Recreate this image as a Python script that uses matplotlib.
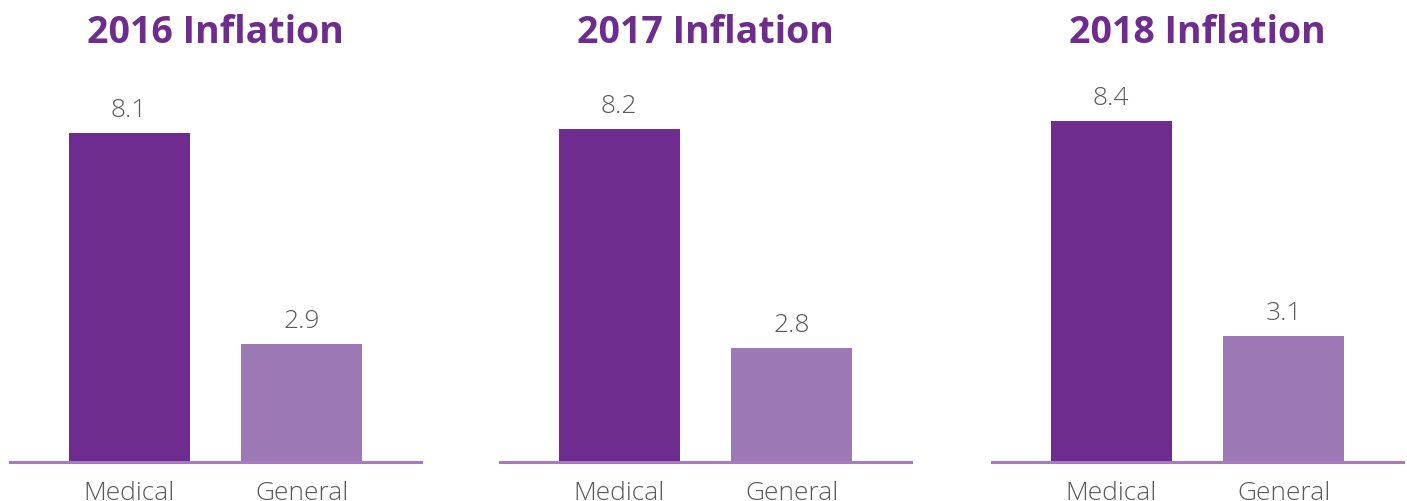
import matplotlib
matplotlib.use("Agg")
import matplotlib.pyplot as plt

years = ["2016", "2017", "2018"]
categories = ["Medical", "General"]
medical = [8.1, 8.2, 8.4]
general = [2.9, 2.8, 3.1]

dark = "#6F2C8F"
light = "#9C78B4"
line_col = "#A57DBF"
text_col = "#595959"

plt.rcParams['font.family'] = ['Open Sans', 'DejaVu Sans']

W, H = 1407, 502
fig = plt.figure(figsize=(W / 100, H / 100), dpi=100)

lefts = [10, 500, 992]
axw = 411
base_y = 463
top_y = 80

for i, yr in enumerate(years):
    ax = fig.add_axes([lefts[i] / W, (H - base_y) / H, axw / W, (base_y - top_y) / H])
    vals = [medical[i], general[i]]
    bars = ax.bar([0, 1], vals, width=0.7, color=[dark, light], zorder=2)
    ax.set_xlim(-0.69, 1.69)
    ax.set_ylim(0, 9.43)
    for s in ["top", "right", "left"]:
        ax.spines[s].set_visible(False)
    ax.spines["bottom"].set_color(line_col)
    ax.spines["bottom"].set_linewidth(2.2)
    ax.spines["bottom"].set_zorder(3)
    ax.set_yticks([])
    ax.set_xticks([0, 1])
    ax.set_xticklabels(categories, fontsize=19, color=text_col, fontweight='light')
    ax.tick_params(axis='x', length=0, pad=13)
    for b, v in zip(bars, vals):
        ax.annotate(f"{v:.1f}", (b.get_x() + b.get_width() / 2, v),
                    xytext=(0, 8), textcoords="offset points",
                    ha="center", va="bottom", fontsize=19, color=text_col,
                    fontweight='light')
    fig.text((lefts[i] + axw / 2) / W, 1 - 33 / H, f"{yr} Inflation",
             ha="center", va="center", fontsize=27, fontweight="bold", color=dark)

fig.savefig("out.png", dpi=100)
